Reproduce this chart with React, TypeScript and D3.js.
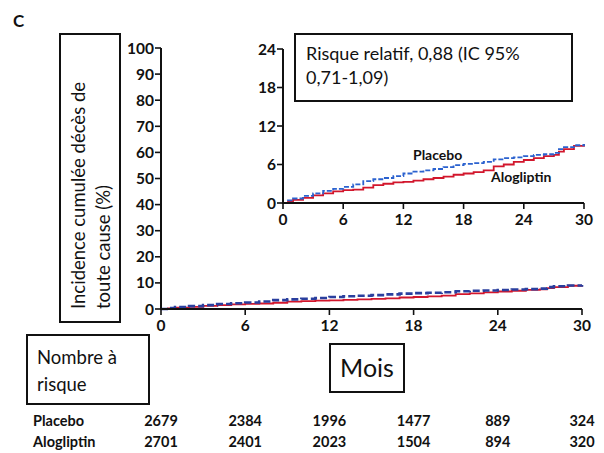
import React from "react";
import * as d3 from "d3";

// month, cumulative incidence (%)
const placeboMonths = [0, 0.5, 1, 2, 3, 4, 5, 6, 7, 8, 9, 10, 11, 12, 13, 14, 15, 16, 17, 18, 19, 20, 21, 22, 23, 24, 25, 26, 27, 27.5, 28, 29, 30];
const placeboValues = [0, 0.4, 0.7, 1.1, 1.5, 1.9, 2.2, 2.5, 2.9, 3.4, 3.7, 3.9, 4.2, 4.6, 4.9, 5.1, 5.3, 5.6, 5.9, 6.1, 6.2, 6.4, 6.8, 7.0, 7.1, 7.3, 7.5, 7.6, 7.8, 8.4, 8.7, 9.0, 9.2];
const alogliptinMonths = [0, 0.5, 1, 2, 3, 4, 5, 6, 7, 8, 9, 10, 11, 12, 13, 14, 15, 16, 17, 18, 19, 20, 21, 22, 23, 24, 25, 26, 27, 27.5, 28, 29, 30];
const alogliptinValues = [0, 0.2, 0.5, 0.8, 1.2, 1.5, 1.8, 2.0, 2.1, 2.4, 2.8, 3.0, 3.2, 3.3, 3.5, 3.7, 3.9, 4.1, 4.4, 4.6, 4.8, 5.1, 5.7, 6.0, 6.4, 6.7, 7.0, 7.3, 7.5, 8.0, 8.4, 8.9, 9.2];

const xTicks = [0, 6, 12, 18, 24, 30];
const mainYTicks = [0, 10, 20, 30, 40, 50, 60, 70, 80, 90, 100];
const insetYTicks = [0, 6, 12, 18, 24];

const atRiskPlacebo = [2679, 2384, 1996, 1477, 889, 324];
const atRiskAlogliptin = [2701, 2401, 2023, 1504, 894, 320];

const BLUE = "#2b62cf";
const NAVY = "#2a3f9e";
const RED = "#d2162c";
const FONT = "Lato, 'Open Sans', sans-serif";

const toPts = (xs: number[], ys: number[]) => xs.map((x, i) => [x, ys[i]] as [number, number]);
const placebo = toPts(placeboMonths, placeboValues);
const alogliptin = toPts(alogliptinMonths, alogliptinValues);

function Axes({ x, y, yTicks, fs }: { x: d3.ScaleLinear<number, number>; y: d3.ScaleLinear<number, number>; yTicks: number[]; fs: number }) {
  const [x0, x1] = x.range();
  const [y0, y1] = y.range();
  return (
    <g fontFamily={FONT} fontWeight={700} fontSize={fs} fill="#111">
      <line x1={x0} x2={x1} y1={y0} y2={y0} stroke="#111" strokeWidth={2} />
      <line x1={x0} x2={x0} y1={y0 + 1} y2={y1} stroke="#111" strokeWidth={2} />
      {xTicks.map(t => (
        <g key={"x" + t}>
          <line x1={x(t)} x2={x(t)} y1={y0} y2={y0 + 6} stroke="#111" strokeWidth={1.6} />
          <text x={x(t)} y={y0 + 22} textAnchor="middle">{t}</text>
        </g>
      ))}
      {yTicks.map(t => (
        <g key={"y" + t}>
          <line x1={x0 - 6} x2={x0} y1={y(t)} y2={y(t)} stroke="#111" strokeWidth={1.6} />
          <text x={x0 - 7} y={y(t) + fs * 0.36} textAnchor="end">{t}</text>
        </g>
      ))}
    </g>
  );
}

export default function App() {
  const W = 604, H = 453;

  const mx = d3.scaleLinear().domain([0, 30]).range([161, 582]);
  const my = d3.scaleLinear().domain([0, 100]).range([309, 48]);
  const ix = d3.scaleLinear().domain([0, 30]).range([283, 584]);
  const iy = d3.scaleLinear().domain([0, 24]).range([203, 49]);

  const mLine = d3.line<[number, number]>().x(d => mx(d[0])).y(d => my(d[1])).curve(d3.curveStepAfter);
  const iLine = d3.line<[number, number]>().x(d => ix(d[0])).y(d => iy(d[1])).curve(d3.curveStepAfter);

  return (
    <div style={{ position: "absolute", left: 0, top: 0 }}>
      <svg width={W} height={H} style={{ display: "block", background: "#fff" }}>
        <text x={13} y={27} fontFamily={FONT} fontWeight={700} fontSize={17} fill="#111">C</text>

        {/* y label box */}
        <rect x={60} y={34} width={60} height={288} fill="none" stroke="#111" strokeWidth={2} />
        <g fontFamily={FONT} fontSize={18.5} fill="#111">
          <text transform={`translate(85,309) rotate(-90)`}>Incidence cumulée décès de</text>
          <text transform={`translate(110,309) rotate(-90)`}>toute cause (%)</text>
        </g>

        {/* main chart */}
        <path d={mLine(alogliptin) || ""} fill="none" stroke={RED} strokeWidth={1.8} />
        <path d={mLine(placebo) || ""} fill="none" stroke={NAVY} strokeWidth={2.6} strokeDasharray="7 3" />
        <Axes x={mx} y={my} yTicks={mainYTicks} fs={15.5} />

        {/* inset */}
        <path d={iLine(alogliptin) || ""} fill="none" stroke={RED} strokeWidth={1.8} />
        <path d={iLine(placebo) || ""} fill="none" stroke={BLUE} strokeWidth={1.8} strokeDasharray="5 2" />
        <Axes x={ix} y={iy} yTicks={insetYTicks} fs={15.5} />
        <text x={413} y={160} fontFamily={FONT} fontWeight={700} fontSize={14} fill="#111">Placebo</text>
        <text x={491} y={182} fontFamily={FONT} fontWeight={700} fontSize={14} fill="#111">Alogliptin</text>

        <rect x={295} y={34} width={277} height={67} fill="#fff" stroke="#111" strokeWidth={2} />
        <g fontFamily={FONT} fontSize={18} fill="#111">
          <text x={306} y={60}>Risque relatif, 0,88 (IC 95%</text>
          <text x={306} y={84}>0,71-1,09)</text>
        </g>

        {/* x label */}
        <rect x={330} y={344} width={74} height={48} fill="none" stroke="#111" strokeWidth={2} />
        <text x={367} y={377} textAnchor="middle" fontFamily={FONT} fontSize={25} fill="#111">Mois</text>

        {/* number at risk */}
        <rect x={27} y={335} width={122} height={69} fill="none" stroke="#111" strokeWidth={2} />
        <g fontFamily={FONT} fontSize={18.5} fill="#111">
          <text x={37} y={364}>Nombre à</text>
          <text x={37} y={391}>risque</text>
        </g>
        <g fontFamily={FONT} fontWeight={700} fontSize={14.5} fill="#111">
          <text x={33} y={426}>Placebo</text>
          <text x={33} y={447}>Alogliptin</text>
          {xTicks.map((t, i) => (
            <g key={"r" + t}>
              <text x={mx(t)} y={426} textAnchor="middle">{atRiskPlacebo[i]}</text>
              <text x={mx(t)} y={447} textAnchor="middle">{atRiskAlogliptin[i]}</text>
            </g>
          ))}
        </g>
      </svg>
    </div>
  );
}
